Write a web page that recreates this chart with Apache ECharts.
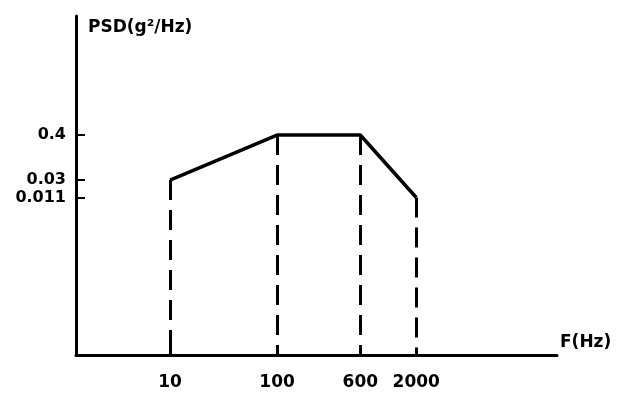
<!DOCTYPE html>
<html>
<head>
<meta charset="utf-8">
<script src="https://cdn.jsdelivr.net/npm/echarts@6/dist/echarts.min.js"></script>
<style>
  html, body { margin: 0; padding: 0; background: #fff; }
  #chart { width: 623px; height: 396px; }
</style>
</head>
<body>
<div id="chart"></div>
<script>
// Random-vibration PSD profile: breakpoints of the spectrum
const frequencies = [10, 100, 600, 2000];      // Hz
const psdValues   = [0.03, 0.4, 0.4, 0.011];   // g^2/Hz
const psdTickValues  = [0.4, 0.03, 0.011];
const freqTickValues = [10, 100, 600, 2000];

// Axis extents (log scales)
const xMin = 1.32, xMax = 41400;
const yMin = 1.27e-6, yMax = 378;

const font = '"DejaVu Sans", sans-serif';
const ink = '#000';

const profile = frequencies.map((f, i) => [f, psdValues[i]]);

// Dashed drop lines from each breakpoint to the frequency axis
const dropLines = frequencies.map((f, i) => [
  { coord: [f, psdValues[i]] },
  { coord: [f, yMin] }
]);

const chart = echarts.init(document.getElementById('chart'), null, { renderer: 'canvas' });
chart.setOption({
  animation: false,
  backgroundColor: '#fff',
  grid: { left: 76, right: 66, top: 16, bottom: 41 },
  xAxis: {
    type: 'log',
    min: xMin,
    max: xMax,
    name: 'F(Hz)',
    nameLocation: 'end',
    nameGap: 3,
    nameTextStyle: {
      color: ink, fontFamily: font, fontWeight: 'bold', fontSize: 17,
      align: 'left', verticalAlign: 'bottom', padding: [0, 0, 4, 0]
    },
    axisLine: { show: true, lineStyle: { color: ink, width: 3 } },
    axisTick: { show: true, inside: true, length: 6, customValues: freqTickValues, lineStyle: { color: ink, width: 3 } },
    axisLabel: {
      customValues: freqTickValues,
      interval: 0,
      hideOverlap: false,
      formatter: v => String(v),
      color: ink, fontFamily: font, fontWeight: 'bold', fontSize: 17, margin: 19
    },
    splitLine: { show: false },
    minorTick: { show: false }
  },
  yAxis: {
    type: 'log',
    min: yMin,
    max: yMax,
    name: 'PSD(g²/Hz)',
    nameLocation: 'end',
    nameGap: -12,
    nameTextStyle: {
      color: ink, fontFamily: font, fontWeight: 'bold', fontSize: 17,
      align: 'left', verticalAlign: 'middle', padding: [0, 0, 0, 12]
    },
    axisLine: { show: true, lineStyle: { color: ink, width: 3 } },
    axisTick: { show: true, inside: true, length: 9, customValues: psdTickValues, lineStyle: { color: ink, width: 2 } },
    axisLabel: {
      customValues: psdTickValues,
      interval: 0,
      hideOverlap: false,
      formatter: v => String(v),
      color: ink, fontFamily: font, fontWeight: 'bold', fontSize: 16, margin: 10
    },
    splitLine: { show: false },
    minorTick: { show: false }
  },
  series: [{
    type: 'line',
    data: profile,
    symbol: 'none',
    lineStyle: { color: ink, width: 3.5 },
    markLine: {
      silent: true,
      symbol: ['none', 'none'],
      label: { show: false },
      lineStyle: { color: ink, width: 3, type: [20, 10] },
      data: dropLines
    }
  }]
});
</script>
</body>
</html>
